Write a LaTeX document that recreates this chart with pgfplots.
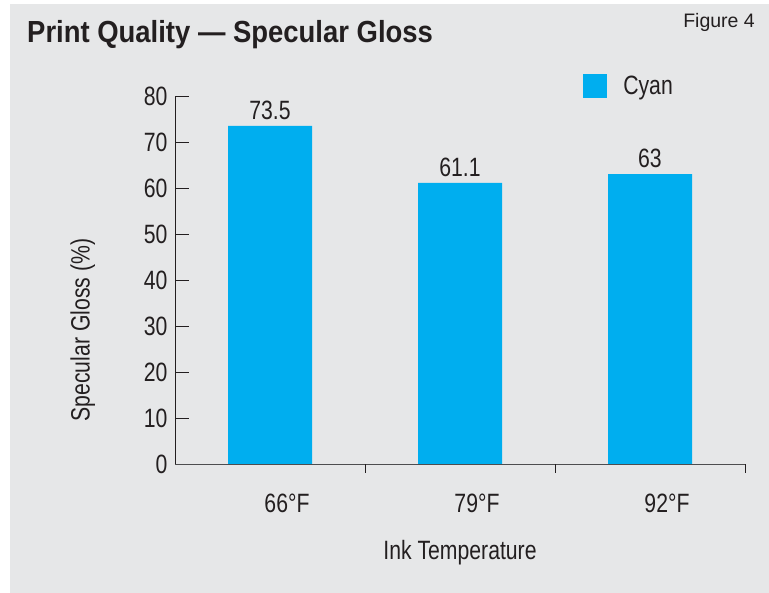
\documentclass[border=0pt]{standalone}
\usepackage{fontspec}
\usepackage{pgfplots}
\pgfplotsset{compat=1.18}
\setmainfont{Liberation Sans}
\newfontfamily\cond{Liberation Sans}[FakeStretch=0.8]
\newfontfamily\condb{Liberation Sans Bold}[FakeStretch=0.9]
\definecolor{bg}{HTML}{E6E7E8}
\definecolor{cyanbar}{HTML}{00AEEF}
\definecolor{txt}{HTML}{231F20}
\definecolor{xax}{HTML}{4D4D4F}
\newcommand{\lab}{\cond\fontsize{26.5}{28}\selectfont}
\begin{document}
\begin{tikzpicture}
\path[use as bounding box] (0pt,0pt) rectangle (769pt,593pt);
\fill[bg] (10pt,0pt) rectangle (769pt,589pt);
\node[anchor=base west, font=\condb\fontsize{30.5}{32}\selectfont, text=txt, inner sep=0] at (27pt,550pt) {Print Quality — Specular Gloss};
\node[anchor=base east, font=\fontsize{19.5}{22}\selectfont, text=txt, inner sep=0] at (755pt,565pt) {Figure 4};
\begin{axis}[
  at={(175pt,129pt)}, anchor=south west,
  scale only axis, width=570pt, height=368pt,
  xmin=-0.5, xmax=2.5, ymin=0, ymax=80,
  axis x line=bottom, axis y line=left,
  axis line style={-, line width=1pt, color=txt},
  x axis line style={line width=0.9pt, color=xax},
  /pgf/number format/assume math mode=true,
  ytick={0,10,...,80},
  tick align=inside,
  major tick length=14pt,
  tick style={line width=0.8pt, color=txt},
  xtick={0,1,2}, xticklabels={66°F,79°F,92°F},
  xtick style={draw=none},
  xticklabel style={yshift=-12pt, xshift=17pt},
  extra x ticks={0.5,1.5,2.5},
  extra x tick labels={},
  extra x tick style={major tick length=9pt, xtick style={draw=txt}},
  tick label style={font=\lab, text=txt},
  yticklabel style={xshift=-4pt},
  xlabel={Ink Temperature},
  xlabel style={font=\lab, text=txt, yshift=2pt},
  ylabel={Specular Gloss (\%)},
  ylabel style={font=\lab, text=txt, at={(axis description cs:-0.162,0.364)}, anchor=center},
  ybar, bar width=84pt,
  nodes near coords,
  every node near coord/.append style={font=\lab, text=txt, anchor=south, inner sep=0pt, yshift=6pt},
  legend style={at={(0.716,1.027)}, anchor=west, draw=none, fill=none, inner sep=0pt, font=\lab, text=txt,
    /tikz/every odd column/.style={column sep=14pt}},
  legend image code/.code={\fill[cyanbar] (0pt,-12pt) rectangle (24pt,12pt);},
]
\addplot[fill=cyanbar, draw=none] coordinates {(0,73.5) (1,61.1) (2,63)};
\addlegendentry{Cyan}
\end{axis}
\end{tikzpicture}
\end{document}
